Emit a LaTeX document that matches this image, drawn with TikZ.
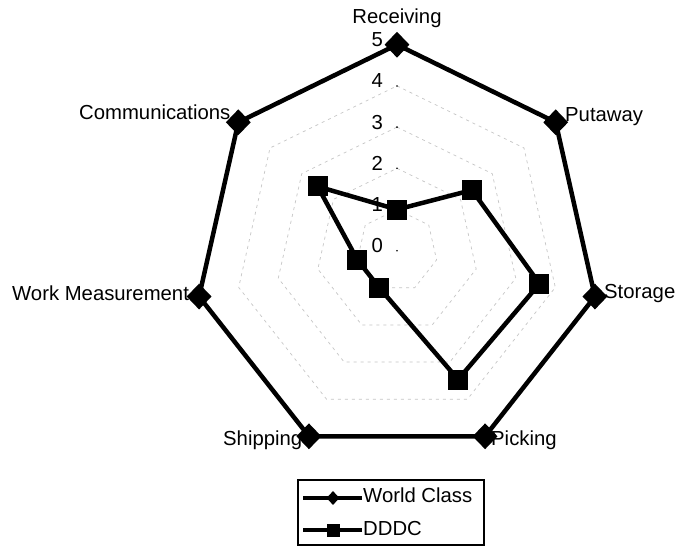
\documentclass[tikz,border=0pt]{standalone}
\usepackage{fontspec}
\setmainfont{Liberation Sans}
\usetikzlibrary{shapes.geometric}
\begin{document}
\begin{tikzpicture}[x=1pt,y=1pt,
  lbl/.style={font=\fontsize{20.3}{24}\selectfont, inner sep=0pt},
  serie/.style={line width=4.5pt, black},
  dmark/.style={diamond, fill=black, inner sep=0pt, minimum width=25pt, minimum height=26pt},
  smark/.style={rectangle, fill=black, inner sep=0pt, minimum size=20pt},
  gridln/.style={gray!45, line width=0.7pt, dash pattern=on 3pt off 4pt}]
\useasboundingbox (0,0) rectangle (677,-550);
\fill[white] (0,0) rectangle (677,-550);

% axis points
\foreach \i/\v in {0/1,1/2.36,2/3.6,3/3.47,4/1,5/1,6/2.5}{
  \coordinate (W\i) at ({397+203*cos(90-\i*360/7)},{-250.7+206*sin(90-\i*360/7)});
  \coordinate (D\i) at ({397+40.6*\v*cos(90-\i*360/7)},{-250.7+41.2*\v*sin(90-\i*360/7)});
}

% grid heptagons
\foreach \k in {1,2,3,4}{
  \draw[gridln] (397,{-250.7+41.2*\k})
    \foreach \i in {1,...,6}{ -- ({397+40.6*\k*cos(90-\i*360/7)},{-250.7+41.2*\k*sin(90-\i*360/7)}) } -- cycle;
}
% tick dots
\foreach \k in {0,...,4}{ \fill (397,{-250.7+41.2*\k}) circle (0.9); }
% value labels
\foreach \k in {0,...,5}{ \node[lbl, anchor=base east] (v\k) at (383,{-250.7+41.2*\k-2}) {\k}; }

% category labels
\node[lbl, anchor=base] (lRec) at (397,-23) {Receiving};
\node[lbl, anchor=base west] (lPut) at (565,-121) {Putaway};
\node[lbl, anchor=base west] (lSto) at (604,-298) {Storage};
\node[lbl, anchor=base west] (lPic) at (491,-445) {Picking};
\node[lbl, anchor=base west] (lShi) at (223,-445) {Shipping};
\node[lbl, anchor=base west] (lWor) at (12,-300) {Work Measurement};
\node[lbl, anchor=base west] (lCom) at (79,-119) {Communications};

% series
\draw[serie, line join=miter] (W0) -- (W1) -- (W2) -- (W3) -- (W4) -- (W5) -- (W6) -- cycle;
\draw[serie, line join=round] (D0) -- (D1) -- (D2) -- (D3) -- (D4) -- (D5) -- (D6) -- cycle;
\foreach \i in {0,...,6}{
  \node[dmark] (mW\i) at (W\i) {};
  \node[smark] (mD\i) at (D\i) {};
}

% legend
\node[draw, line width=1.5pt, minimum width=186pt, minimum height=65pt, inner sep=0pt, anchor=north west] (leg) at (297,-479) {};
\coordinate (L1a) at (303,-498);
\coordinate (L1b) at (362,-498);
\coordinate (L2a) at (303,-530);
\coordinate (L2b) at (362,-530);
\draw[line width=3.5pt] (L1a) -- (L1b);
\draw[line width=3.5pt] (L2a) -- (L2b);
\node[diamond, fill=black, inner sep=0pt, minimum width=13pt, minimum height=14pt] (lgW) at (333,-498) {};
\node[rectangle, fill=black, inner sep=0pt, minimum size=13pt] (lgD) at (333,-530) {};
\node[lbl, anchor=base west] (tW) at (363,-502) {World Class};
\node[lbl, anchor=base west] (tD) at (363,-535) {DDDC};
\end{tikzpicture}
\end{document}
